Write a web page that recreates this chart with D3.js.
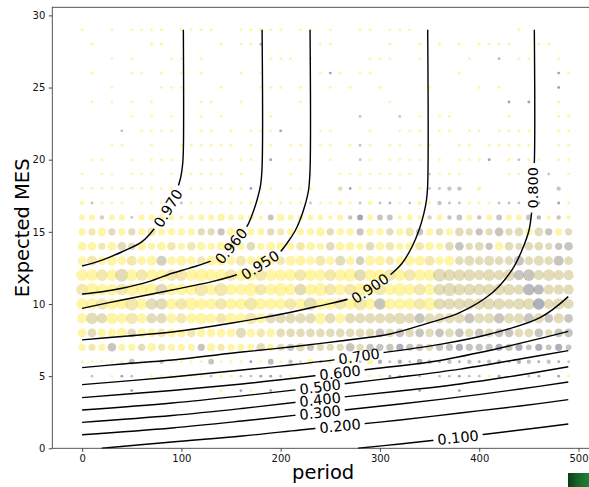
<!DOCTYPE html>
<html><head><meta charset="utf-8">
<script src="https://cdn.jsdelivr.net/npm/d3@7"></script>
<style>html,body{margin:0;padding:0;background:#fff;}svg{display:block;font-family:"DejaVu Sans",sans-serif;}</style>
</head><body>
<svg id="chart" width="589" height="487"></svg>
<script>
// ---------- data ----------
const periods = [0,10,20,30,40,50,60,70,80,90,100,110,120,130,140,150,160,170,180,190,200,210,220,230,240,250,260,270,280,290,300,310,320,330,340,350,360,370,380,390,400,410,420,430,440,450,460,470,480,490];
const mesValues = [29,28,27,26,25,24,23,22,21,20,19,18,17,16,15,14,13,12,11,10,9,8,7,6,5,4];
// size code per cell ('.' = no point), one row per MES value
const sizeRows = [
"2..2.2222."+"2222..2222"+"2.22.2..22"+".222......"+"....2.....",
".2.....22."+"....2.222."+"....22...."+".2..2.2.2."+"2222..22..",
"...2.2...2"+"2.2......2"+"22.2.....2"+"22..2....2"+"..2.22..2.",
".2...22.2."+"2.2...2.2."+"....222.22"+"........2."+"........22",
"...2....22"+"2...2...22"+"2.2..2.2.."+"2....2...."+"2.2.....2.",
".2.2.2.2.."+"..22..2..."+"..2......."+".2........"+"...2.2..2.",
".....2.2.2"+"..2.2....2"+"........2."+"..2.2.22.."+"...2....22",
"....2.2222"+"..22.2.222"+"2...22...2"+"..222.22.2"+"2.2222..22",
"...22..2.."+"222222.2.2"+".22.22.222"+".22.22..22"+".22222..22",
".22..2.222"+"..222.22.2"+".22..2..22"+".2222.2.22"+"22.2222.22",
"2.22.222.2"+"22222.2..."+".2.2..2222"+"2222.2222."+"...22..2.2",
"2222222222"+".222222222"+".222..3222"+"222.22233."+"3.......3.",
"32222.2222"+"2222222222"+"2222223223"+"2222323222"+"2222222.22",
"4434424444"+"3444544434"+"5444434344"+"4434334344"+"3444443333",
"5565555655"+"5555565555"+"5555655555"+"5556555565"+"5565656555",
"6656656566"+"5665665656"+"6566566656"+"6656665665"+"6566566556",
"6767676776"+"7667767676"+"6776767667"+"7667776767"+"6766767676",
"8888988888"+"8898888888"+"8888888988"+"8888889888"+"7878787877",
"8988898988"+"8898988988"+"9888988898"+"8898888988"+"8888787777",
"8888898888"+"8988888988"+"8889888898"+"8888898888"+"8887888787",
"7878787777"+"7787787877"+"7777877777"+"7787777777"+"7777777676",
"6666766666"+"6666667666"+"6666666666"+"6666666666"+"6666666566",
"5556555655"+"5556555565"+"5565555655"+"5555555555"+"5555545454",
"2222242232"+"2224222224"+"2324232324"+"3232432323"+"2332332322",
".2.222.222"+"2222222222"+"222......2"+"222.2.2222"+"222..22.22",
".....2...."+"....2.22.2"+".........."+"....2...2."+".........."
];
// colour code per cell (0 = low / blue-grey, 9 = high / yellow)
const colorRows = [
"9999999999"+"9999999999"+"9999999999"+"9999999999"+"9999999999",
"9999999999"+"9999999949"+"9999999999"+"9999999999"+"9999999999",
"9999999999"+"9999999999"+"9999999999"+"9999999999"+"9949999999",
"9999999999"+"9999999999"+"9999929999"+"9999999999"+"9999999929",
"9999999999"+"9999999999"+"9999999999"+"9999999999"+"9999999929",
"9999999999"+"9999999999"+"9999999999"+"9999999999"+"9992929999",
"9999999999"+"9999999999"+"9999999959"+"9959999999"+"9999999999",
"9999599999"+"9999999999"+"2999999999"+"9999999999"+"9999999999",
"9999999999"+"9999999999"+"9999999959"+"9999999999"+"9999999999",
"9999999999"+"9999999992"+"9999999959"+"9999999999"+"9299599999",
"9999999999"+"9999999999"+"9999999999"+"9999959999"+"9999999599",
"9999999999"+"9999999299"+"9999997299"+"9999955559"+"9999999959",
"9599999999"+"5999999999"+"9995999959"+"5395995559"+"9955592929",
"9969959999"+"9999999995"+"9999999529"+"5599969559"+"5959953959",
"9897979899"+"9977598997"+"8999979959"+"9798597977"+"5757797597",
"9989779998"+"9899989799"+"9989979997"+"9899899757"+"7597777755",
"9899989969"+"9989998999"+"8999897969"+"9899989977"+"7777577757",
"9989798998"+"8999989989"+"9989989979"+"9898997777"+"7777557777",
"8999899979"+"9989899989"+"9979989899"+"8999897777"+"7777744777",
"9989989779"+"8999899899"+"9897998989"+"5999897777"+"7777773777",
"9779989779"+"8999899897"+"7777979777"+"7777577775"+"7757757575",
"9799979989"+"9899997989"+"7777777777"+"5757575757"+"5755775755",
"9895997989"+"9959899979"+"7575777575"+"5535575535"+"5535353535",
"9999959959"+"9995999294"+"9579595959"+"3535353535"+"3535353535",
"9599259999"+"9995995522"+"5999999999"+"9259595525"+"5929952929",
"9999929999"+"9999992992"+"9999999999"+"9999299929"+"9999999999"
];
// contour lines: [period, expected MES]
const contour097 = [[102.0,29.0],[102.0,20.67],[101.2,19.63],[99.2,18.73],[94.7,17.76],[88.6,16.87],[80.6,15.96],[72.5,15.2],[60.4,14.32],[40.3,13.62],[20.1,13.04],[0,12.63]];
const contour096 = [[181.3,29.0],[181.3,19.49],[179.8,18.25],[176.2,17.21],[171.2,16.17],[165.2,15.27],[150.1,14.02],[131.9,13.05],[107.5,12.47],[90.6,12.13],[67.2,11.55],[40.3,11.09],[20.1,10.85],[0,10.69]];
const contour095 = [[229.6,29.0],[229.6,19.29],[228.1,17.9],[224.6,16.86],[219.5,15.82],[214.5,15.06],[206.4,14.21],[198.4,13.53],[179.3,12.7],[161.1,12.15],[151.1,11.92],[130.9,11.55],[90.6,10.97],[40.3,10.28],[0,9.7]];
const contour090 = [[348.1,29.0],[348.1,18.26],[346.9,17.21],[344.4,16.31],[339.4,15.13],[332.3,13.97],[322.3,12.82],[310.2,12.01],[290.0,11.08],[270.2,10.4],[235.0,9.81],[201.4,9.31],[151.1,8.68],[90.6,8.06],[40.3,7.75],[0,7.51]];
const contour080 = [[455.5,29.0],[455.5,19.77],[453.8,18.05],[452.7,16.31],[450.2,15.13],[443.1,13.74],[433.0,12.36],[412.9,10.76],[379.7,9.38],[345.4,8.61],[310.2,7.92],[259.8,7.44],[209.5,7.02],[161.1,6.67],[90.6,6.12],[40.3,5.84],[0,5.59]];
const contour070 = [[0,4.41],[90.6,4.94],[161.1,5.43],[209.5,5.77],[259.8,6.18],[279.0,6.38],[298.1,6.58],[360.5,7.2],[410.9,7.92],[461.2,9.05],[489.7,10.51]];
const contour060 = [[0,3.51],[90.6,4.01],[161.1,4.46],[219.5,4.91],[259.8,5.24],[298.1,5.55],[350.5,5.98],[400.8,6.64],[451.1,7.44],[489.7,8.1]];
const contour050 = [[0,2.65],[90.6,3.14],[161.1,3.63],[219.5,4.08],[239.7,4.26],[259.8,4.44],[320.2,4.94],[380.7,5.49],[441.1,6.19],[489.7,6.77]];
const contour040 = [[0,1.8],[90.6,2.27],[161.1,2.76],[239.7,3.38],[320.2,3.97],[380.7,4.46],[441.1,5.08],[489.7,5.65]];
const contour030 = [[0,0.94],[90.6,1.41],[161.1,1.89],[239.7,2.48],[320.2,3.07],[380.7,3.56],[441.1,4.11],[489.7,4.59]];
const contour020 = [[19.8,0],[90.6,0.44],[161.1,0.85],[219.5,1.27],[259.8,1.55],[320.2,1.96],[380.7,2.45],[441.1,2.93],[489.7,3.37]];
const contour010 = [[277.9,0],[320.2,0.3],[378.7,0.75],[441.1,1.27],[489.7,1.68]];
const contourLevels = [0.97,0.96,0.95,0.9,0.8,0.7,0.6,0.5,0.4,0.3,0.2,0.1];
const contourLines = [contour097,contour096,contour095,contour090,contour080,contour070,contour060,contour050,contour040,contour030,contour020,contour010];
// inline label anchors on each contour
const labelPeriods = [86.6,150.1,179.3,290.0,453.8,279.0,259.8,239.7,239.7,239.7,259.8,378.7];
const labelMES =     [16.64,14.02,12.7,11.08,18.05,6.38,5.24,4.26,3.38,2.48,1.55,0.75];
const xTicks = [0,100,200,300,400,500];
const yTicks = [0,5,10,15,20,25,30];
const xLabel = "period";
const yLabel = "Expected MES";

// ---------- drawing ----------
const W = 589, H = 487;
const svg = d3.select("#chart");
const plotLeft = 52.3, plotRight = 594, plotTop = 7.3, plotBottom = 448.3;
const x = d3.scaleLinear().domain([-30, 515.6]).range([plotLeft, plotRight]);
const y = d3.scaleLinear().domain([0, 30.56]).range([plotBottom, plotTop]);
const r = d3.scaleLinear().domain([0, 9]).range([0, 6.5]);
const color = d3.scaleSequential(d3.interpolateCividis).domain([0, 9]);

const defs = svg.append("defs");

// scatter cells
const cells = [];
mesValues.forEach((m, ri) => {
  const s = sizeRows[ri], c = colorRows[ri];
  periods.forEach((p, ci) => {
    if (s[ci] !== ".") cells.push({period: p, mes: m, size: +s[ci], tone: +c[ci]});
  });
});
svg.append("g").selectAll("circle").data(cells).join("circle")
  .attr("cx", d => x(d.period)).attr("cy", d => y(d.mes)).attr("r", d => r(d.size))
  .attr("fill", d => color(d.tone)).attr("fill-opacity", 0.48);

// contours
const mask = defs.append("mask").attr("id", "lblmask").attr("maskUnits", "userSpaceOnUse")
  .attr("x", 0).attr("y", 0).attr("width", W).attr("height", H);
mask.append("rect").attr("width", W).attr("height", H).attr("fill", "white");
const line = d3.line().x(d => x(d[0])).y(d => y(d[1])).curve(d3.curveCatmullRom.alpha(0.5));
const lineG = svg.append("g").attr("mask", "url(#lblmask)");
contourLines.forEach(pts => {
  lineG.append("path").attr("d", line(pts)).attr("fill", "none")
    .attr("stroke", "#000").attr("stroke-width", 1.4);
});

const fmt = d3.format(".3f");
const lblG = svg.append("g");
contourLevels.forEach((lev, i) => {
  const px = x(labelPeriods[i]), py = y(labelMES[i]);
  const pts = contourLines[i].map(d => [x(d[0]), y(d[1])]);
  let best = Infinity, ang = 0;
  for (let k = 0; k < pts.length - 1; k++) {
    const [x1, y1] = pts[k], [x2, y2] = pts[k + 1];
    const dx = x2 - x1, dy = y2 - y1;
    const L = dx * dx + dy * dy;
    let t = L ? ((px - x1) * dx + (py - y1) * dy) / L : 0;
    t = Math.max(0, Math.min(1, t));
    const qx = x1 + t * dx, qy = y1 + t * dy;
    const dd = (qx - px) ** 2 + (qy - py) ** 2;
    if (dd < best) { best = dd; ang = Math.atan2(dy, dx) * 180 / Math.PI; }
  }
  if (ang > 90) ang -= 180;
  if (ang <= -90) ang += 180;
  if (Math.abs(Math.abs(ang) - 90) < 10) ang = -90;
  const tr = `translate(${px},${py}) rotate(${ang})`;
  const t = lblG.append("text").attr("transform", tr).attr("text-anchor", "middle")
    .attr("dy", "0.36em").attr("font-size", 14.5).attr("fill", "#000").text(fmt(lev));
  const w = t.node().getComputedTextLength();
  mask.append("rect").attr("transform", tr).attr("x", -w / 2 - 4).attr("y", -7)
    .attr("width", w + 8).attr("height", 14).attr("fill", "black");
});

// axes
const axisStyle = g => {
  g.select(".domain").remove();
  g.selectAll("line").attr("stroke", "#333").attr("stroke-width", 0.9);
  g.selectAll("text").attr("font-size", 10).attr("font-family", "DejaVu Sans, sans-serif").attr("fill", "#111");
};
svg.append("g").attr("transform", `translate(0,${plotBottom})`)
  .call(d3.axisBottom(x).tickValues(xTicks).tickSize(3.5).tickPadding(3.5).tickFormat(d3.format("d")))
  .call(axisStyle);
svg.append("g").attr("transform", `translate(${plotLeft},0)`)
  .call(d3.axisLeft(y).tickValues(yTicks).tickSize(3.5).tickPadding(3.5).tickFormat(d3.format("d")))
  .call(axisStyle);

// spines
svg.append("rect").attr("x", plotLeft).attr("y", plotTop).attr("width", plotRight - plotLeft)
  .attr("height", plotBottom - plotTop).attr("fill", "none").attr("stroke", "#444").attr("stroke-width", 0.9);

// axis titles
svg.append("text").attr("x", (plotLeft + plotRight) / 2).attr("y", 479).attr("text-anchor", "middle")
  .attr("font-size", 19.5).attr("fill", "#000").text(xLabel);
svg.append("text").attr("transform", `translate(28.5,${(plotTop + plotBottom) / 2}) rotate(-90)`)
  .attr("text-anchor", "middle").attr("font-size", 19.5).attr("fill", "#000").text(yLabel);

// partial colour-bar fragment at bottom-right corner
const grad = defs.append("linearGradient").attr("id", "cbgrad").attr("x1", 0).attr("x2", 1).attr("y1", 0).attr("y2", 0);
grad.append("stop").attr("offset", 0).attr("stop-color", "#0b3b17");
grad.append("stop").attr("offset", 0.45).attr("stop-color", "#16632a");
grad.append("stop").attr("offset", 1).attr("stop-color", "#238039");
svg.append("rect").attr("x", 568).attr("y", 473).attr("width", 21).attr("height", 14).attr("fill", "url(#cbgrad)");
</script>
</body></html>
